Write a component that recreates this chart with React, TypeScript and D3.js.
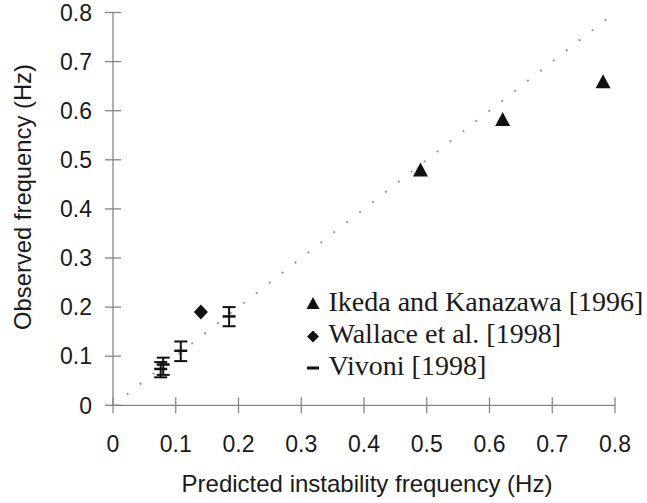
import React from "react";
import * as d3 from "d3";

const xTicks = [0, 0.1, 0.2, 0.3, 0.4, 0.5, 0.6, 0.7, 0.8];
const yTicks = [0, 0.1, 0.2, 0.3, 0.4, 0.5, 0.6, 0.7, 0.8];
const xTickLabels = ["0", "0.1", "0.2", "0.3", "0.4", "0.5", "0.6", "0.7", "0.8"];
const yTickLabels = ["0", "0.1", "0.2", "0.3", "0.4", "0.5", "0.6", "0.7", "0.8"];

// Ikeda and Kanazawa [1996]
const ikedaX = [0.49, 0.621, 0.781];
const ikedaY = [0.48, 0.583, 0.66];

// Wallace et al. [1998]
const wallaceX = [0.14];
const wallaceY = [0.19];

// Vivoni [1998]
const vivoniX = [0.076, 0.08, 0.108, 0.185];
const vivoniY = [0.074, 0.083, 0.111, 0.181];
const vivoniLo = [0.057, 0.062, 0.09, 0.161];
const vivoniHi = [0.088, 0.097, 0.13, 0.2];

const diagonal = [0.022, 0.79];

const legendLabels = ["Ikeda and Kanazawa [1996]", "Wallace et al. [1998]", "Vivoni [1998]"];

const W = 647;
const H = 503;

export default function App() {
  const x = d3.scaleLinear().domain([0, 0.8]).range([113, 615]);
  const y = d3.scaleLinear().domain([0, 0.8]).range([405.3, 12.5]);
  const axisColor = "#858585";
  const textColor = "#1a1a1a";
  const sans = "'Liberation Sans', Arial, Helvetica, sans-serif";
  const serif = "'Liberation Serif', 'Times New Roman', serif";

  const tri = (cx: number, cy: number, w: number, h: number) =>
    `M${cx},${cy - h / 2}L${cx + w / 2},${cy + h / 2}L${cx - w / 2},${cy + h / 2}Z`;
  const dia = (cx: number, cy: number, w: number, h: number) =>
    `M${cx},${cy - h / 2}L${cx + w / 2},${cy}L${cx},${cy + h / 2}L${cx - w / 2},${cy}Z`;

  const capW = 13;

  return (
    <svg
      width={W}
      height={H}
      style={{ position: "absolute", left: 0, top: 0, background: "#fff" }}
    >
      {/* diagonal dotted line */}
      <line
        x1={x(diagonal[0])}
        y1={y(diagonal[0])}
        x2={x(diagonal[1])}
        y2={y(diagonal[1])}
        stroke="#9a9a9a"
        strokeWidth={2}
        strokeDasharray="2 14.4"
      />

      {/* axes */}
      <line x1={x(0)} y1={y(0)} x2={x(0)} y2={y(0.8)} stroke={axisColor} strokeWidth={1.3} />
      <line x1={x(0)} y1={y(0)} x2={x(0.8)} y2={y(0)} stroke={axisColor} strokeWidth={1.3} />
      {yTicks.map((t, i) => (
        <g key={"yt" + i}>
          <line x1={x(0) - 8} x2={x(0) + 8} y1={y(t)} y2={y(t)} stroke={axisColor} strokeWidth={1.3} />
          <text
            x={92}
            y={y(t)}
            dy="0.36em"
            textAnchor="end"
            fontFamily={sans}
            fontSize={23}
            fill={textColor}
          >
            {yTickLabels[i]}
          </text>
        </g>
      ))}
      {xTicks.map((t, i) => (
        <g key={"xt" + i}>
          <line x1={x(t)} x2={x(t)} y1={y(0) - 8} y2={y(0) + 8} stroke={axisColor} strokeWidth={1.3} />
          <text
            x={x(t)}
            y={452}
            textAnchor="middle"
            fontFamily={sans}
            fontSize={23}
            fill={textColor}
          >
            {xTickLabels[i]}
          </text>
        </g>
      ))}

      {/* axis titles */}
      <text
        x={367}
        y={492}
        textAnchor="middle"
        fontFamily={sans}
        fontSize={24}
        fill={textColor}
      >
        Predicted instability frequency (Hz)
      </text>
      <text
        transform={`translate(31,197) rotate(-90)`}
        textAnchor="middle"
        fontFamily={sans}
        fontSize={23.8}
        fill={textColor}
      >
        Observed frequency (Hz)
      </text>

      {/* Vivoni error bars */}
      {vivoniX.map((v, i) => (
        <g key={"viv" + i} stroke="#111" strokeWidth={2}>
          <line x1={x(v)} x2={x(v)} y1={y(vivoniLo[i])} y2={y(vivoniHi[i])} />
          <line x1={x(v) - capW / 2} x2={x(v) + capW / 2} y1={y(vivoniLo[i])} y2={y(vivoniLo[i])} />
          <line x1={x(v) - capW / 2} x2={x(v) + capW / 2} y1={y(vivoniHi[i])} y2={y(vivoniHi[i])} />
          <line
            x1={x(v) - capW / 2}
            x2={x(v) + capW / 2}
            y1={y(vivoniY[i])}
            y2={y(vivoniY[i])}
            strokeWidth={2.5}
          />
        </g>
      ))}

      {/* Wallace diamonds */}
      {wallaceX.map((v, i) => (
        <path key={"wal" + i} d={dia(x(v), y(wallaceY[i]), 14, 15)} fill="#111" />
      ))}

      {/* Ikeda triangles */}
      {ikedaX.map((v, i) => (
        <path key={"ike" + i} d={tri(x(v), y(ikedaY[i]), 15, 14)} fill="#111" />
      ))}

      {/* legend */}
      <g>
        <path d={tri(313, 303, 13, 12)} fill="#111" />
        <path d={dia(313, 336.5, 12, 12)} fill="#111" />
        <line x1={307} x2={319} y1={368} y2={368} stroke="#111" strokeWidth={3} />
        {legendLabels.map((l, i) => (
          <text
            key={"lg" + i}
            x={328.5}
            y={[310.5, 343, 375][i]}
            fontFamily={serif}
            fontSize={28}
            fill={textColor}
          >
            {l}
          </text>
        ))}
      </g>
    </svg>
  );
}
